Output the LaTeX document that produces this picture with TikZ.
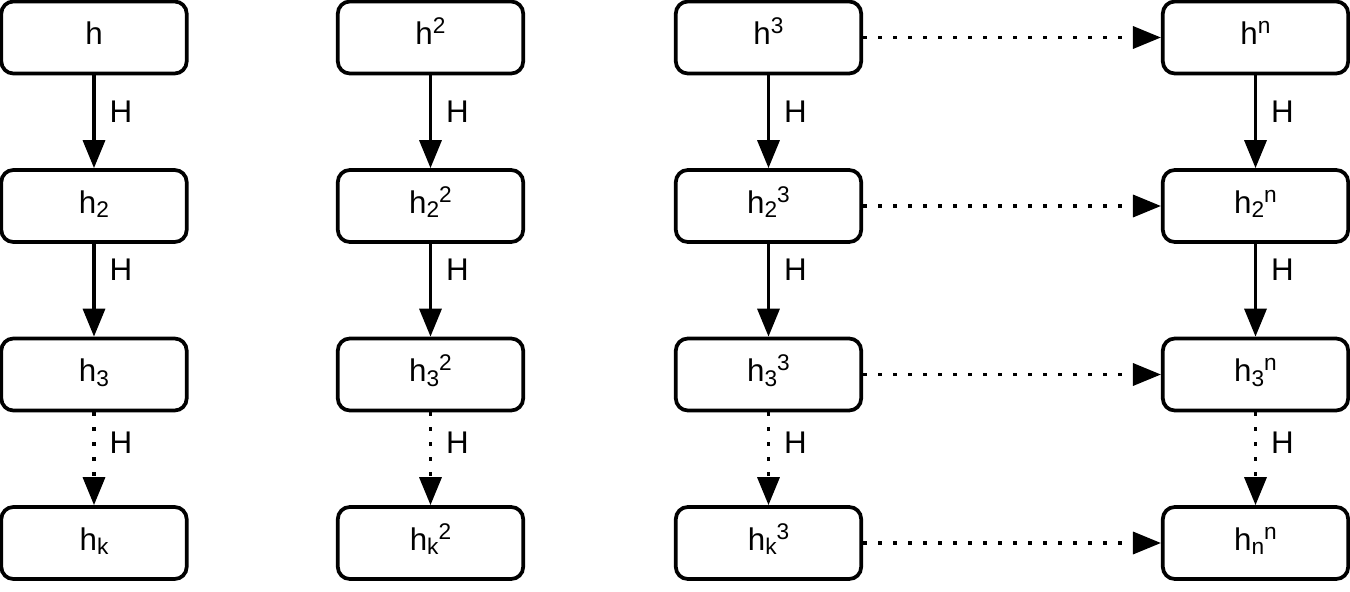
\documentclass[tikz,border=0pt]{standalone}
\usepackage{fontspec}
\setmainfont{Liberation Sans}
\usetikzlibrary{arrows.meta}
\newcommand\hsb[1]{\raisebox{-0.15em}{\fontsize{17}{17}\selectfont #1}}
\newcommand\hsp[1]{\raisebox{0.35em}{\fontsize{17}{17}\selectfont #1}}
\tikzset{
  box/.style={draw, line width=2.8pt, rounded corners=9pt, minimum width=139pt, minimum height=54pt,
    text height=20pt, text depth=9.5pt, inner sep=0pt, font=\fontsize{23.5}{27}\selectfont},
  conn/.style={line width=2.6pt, -{Triangle[length=21pt,width=16.5pt]}},
  dotconn/.style={conn, dash pattern=on 2.6pt off 8.65pt},
  lbl/.style={font=\fontsize{23.5}{27}\selectfont, inner sep=0pt}
}
\begin{document}
\begin{tikzpicture}[x=0.75pt,y=-0.75pt]
\useasboundingbox (0,0) rectangle (1350,592);
% column 1
\node[box] (a1) at (94,37.5) {h};
\node[box] (a2) at (94,206) {h\hsb{2}};
\node[box] (a3) at (94,374.5) {h\hsb{3}};
\node[box] (a4) at (94,543) {h\hsb{k}};
% column 2
\node[box] (b1) at (430.5,37.5) {h\hsp{2}};
\node[box] (b2) at (430.5,206) {h\hsb{2}\hsp{2}};
\node[box] (b3) at (430.5,374.5) {h\hsb{3}\hsp{2}};
\node[box] (b4) at (430.5,543) {h\hsb{k}\hsp{2}};
% column 3
\node[box] (c1) at (768.5,37.5) {h\hsp{3}};
\node[box] (c2) at (768.5,206) {h\hsb{2}\hsp{3}};
\node[box] (c3) at (768.5,374.5) {h\hsb{3}\hsp{3}};
\node[box] (c4) at (768.5,543) {h\hsb{k}\hsp{3}};
% column 4
\node[box] (d1) at (1255.5,37.5) {h\hsp{n}};
\node[box] (d2) at (1255.5,206) {h\hsb{2}\hsp{n}};
\node[box] (d3) at (1255.5,374.5) {h\hsb{3}\hsp{n}};
\node[box] (d4) at (1255.5,543) {h\hsb{n}\hsp{n}};
% vertical connectors
\foreach \c in {a,b,c,d}{
  \draw[conn] (\c1) -- (\c2);
  \draw[conn] (\c2) -- (\c3);
  \draw[dotconn] (\c3) -- (\c4);
}
% horizontal connectors
\foreach \r in {1,2,3,4}{
  \draw[dotconn] (c\r) -- (d\r);
}
% labels
\foreach \c/\x in {a/94,b/430.5,c/768.5,d/1255.5}{
  \node[lbl] (\c l1) at (\x+27,112) {H};
  \node[lbl] (\c l2) at (\x+27,270) {H};
  \node[lbl] (\c l3) at (\x+27,443) {H};
}
\end{tikzpicture}
\end{document}
